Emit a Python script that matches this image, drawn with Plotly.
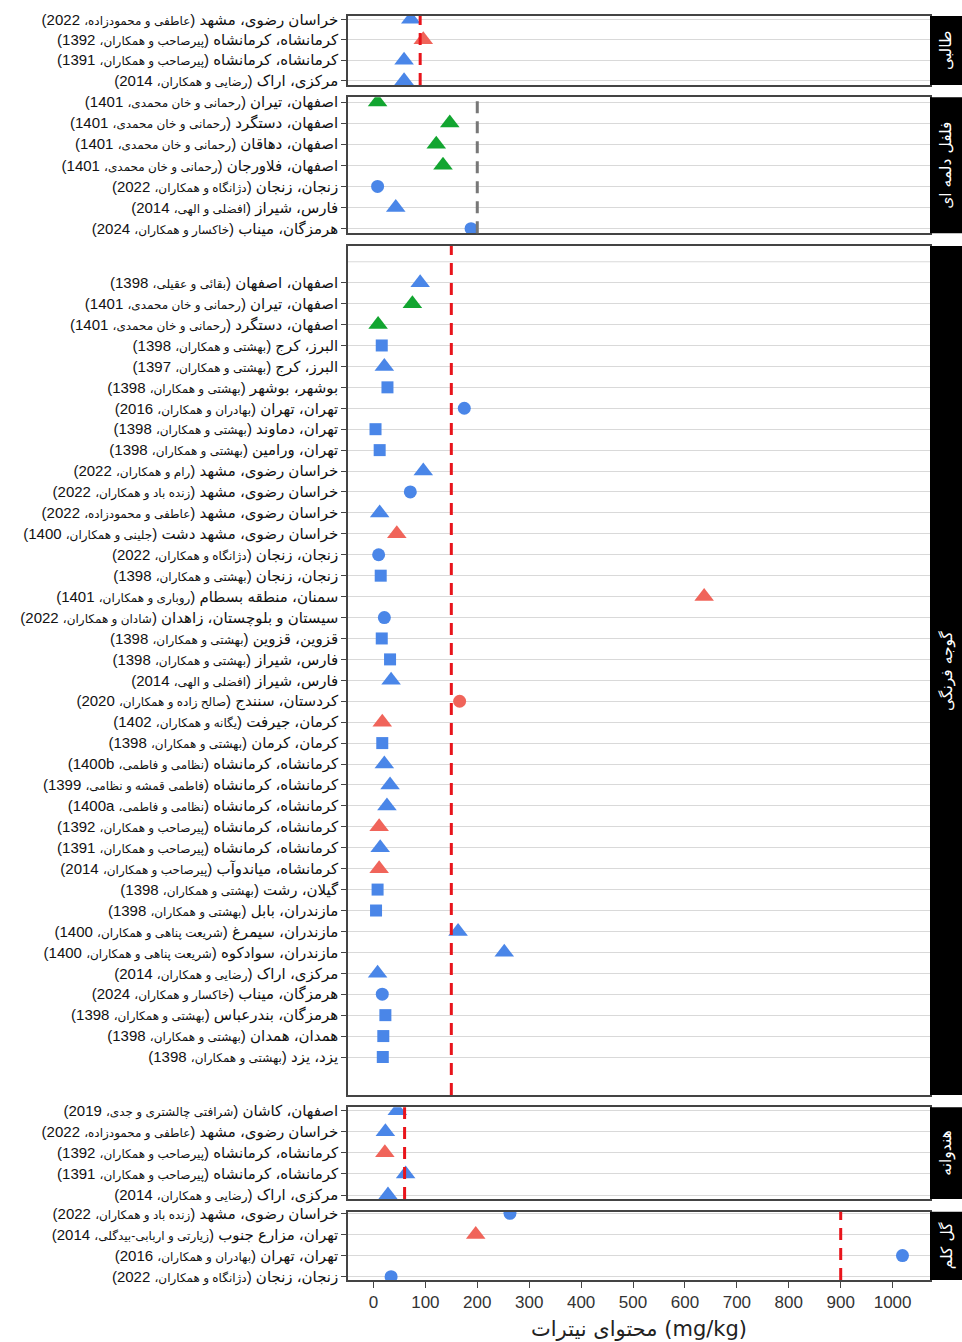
import re
import plotly.graph_objects as go

# ---------------- DATA ----------------
panel_names = ["طالبی", "فلفل دلمه ای", "گوجه فرنگی", "هندوانه", "گل کلم"]
thresholds = [90, 200, 150, 60, 900]
threshold_colors = ["#e8141b", "#777777", "#e8141b", "#e8141b", "#e8141b"]

melon_labels = [
    "خراسان رضوی، مشهد (عاطفی و محمودزاده، 2022)",
    "کرمانشاه، کرمانشاه (پیرصاحب و همکاران، 1392)",
    "کرمانشاه، کرمانشاه (پیرصاحب و همکاران، 1391)",
    "مرکزی، اراک (رضایی و همکاران، 2014)",
]
melon_values = [72, 96, 59, 59]
melon_shapes = ["t", "t", "t", "t"]
melon_colors = ["b", "r", "b", "b"]

pepper_labels = [
    "اصفهان، تیران (رحمانی و خان محمدی، 1401)",
    "اصفهان، دستگرد (رحمانی و خان محمدی، 1401)",
    "اصفهان، دهاقان (رحمانی و خان محمدی، 1401)",
    "اصفهان، فلاورجان (رحمانی و خان محمدی، 1401)",
    "زنجان، زنجان (دژانگاه و همکاران، 2022)",
    "فارس، شیراز (افضلی و الهی، 2014)",
    "هرمزگان، میناب (خاکسار و همکاران، 2024)",
]
pepper_values = [8, 147, 121, 134, 8, 43, 188]
pepper_shapes = ["t", "t", "t", "t", "c", "t", "c"]
pepper_colors = ["g", "g", "g", "g", "b", "b", "b"]

tomato_labels = [
    "اصفهان، اصفهان (بقائی و عقیلی، 1398)",
    "اصفهان، تیران (رحمانی و خان محمدی، 1401)",
    "اصفهان، دستگرد (رحمانی و خان محمدی، 1401)",
    "البرز، کرج (بهشتی و همکاران، 1398)",
    "البرز، کرج (بهشتی و همکاران، 1397)",
    "بوشهر، بوشهر (بهشتی و همکاران، 1398)",
    "تهران، تهران (بهادران و همکاران، 2016)",
    "تهران، دماوند (بهشتی و همکاران، 1398)",
    "تهران، ورامین (بهشتی و همکاران، 1398)",
    "خراسان رضوی، مشهد (رام و همکاران، 2022)",
    "خراسان رضوی، مشهد (زنده باد و همکاران، 2022)",
    "خراسان رضوی، مشهد (عاطفی و محمودزاده، 2022)",
    "خراسان رضوی، مشهد دشت (جلینی و همکاران، 1400)",
    "زنجان، زنجان (دژانگاه و همکاران، 2022)",
    "زنجان، زنجان (بهشتی و همکاران، 1398)",
    "سمنان، منطقه بسطام (روباری و همکاران، 1401)",
    "سیستان و بلوچستان، زاهدان (شادان و همکاران، 2022)",
    "قزوین، قزوین (بهشتی و همکاران، 1398)",
    "فارس، شیراز (بهشتی و همکاران، 1398)",
    "فارس، شیراز (افضلی و الهی، 2014)",
    "کردستان، سنندج (صالح زاده و همکاران، 2020)",
    "کرمان، جیرفت (یگانه و همکاران، 1402)",
    "کرمان، کرمان (بهشتی و همکاران، 1398)",
    "کرمانشاه، کرمانشاه (نظامی و فاطمی، 1400b)",
    "کرمانشاه، کرمانشاه (فاطمی قمشه و نظامی، 1399)",
    "کرمانشاه، کرمانشاه (نظامی و فاطمی، 1400a)",
    "کرمانشاه، کرمانشاه (پیرصاحب و همکاران، 1392)",
    "کرمانشاه، کرمانشاه (پیرصاحب و همکاران، 1391)",
    "کرمانشاه، میاندوآب (پیرصاحب و همکاران، 2014)",
    "گیلان، رشت (بهشتی و همکاران، 1398)",
    "مازندران، بابل (بهشتی و همکاران، 1398)",
    "مازندران، سیمرغ (شریعت پناهی و همکاران، 1400)",
    "مازندران، سوادکوه (شریعت پناهی و همکاران، 1400)",
    "مرکزی، اراک (رضایی و همکاران، 2014)",
    "هرمزگان، میناب (خاکسار و همکاران، 2024)",
    "هرمزگان، بندرعباس (بهشتی و همکاران، 1398)",
    "همدان، همدان (بهشتی و همکاران، 1398)",
    "یزد، یزد (بهشتی و همکاران، 1398)",
]
tomato_values = [90, 75, 9, 16, 21, 27, 175, 4, 12, 96, 71, 12, 45, 10, 14,
                 637, 21, 16, 32, 34, 166, 17, 17, 21, 32, 26, 11, 13, 11,
                 8, 5, 163, 252, 8, 17, 23, 19, 18]
tomato_shapes = ["t", "t", "t", "s", "t", "s", "c", "s", "s", "t", "c", "t", "t", "c", "s",
                 "t", "c", "s", "s", "t", "c", "t", "s", "t", "t", "t", "t", "t", "t",
                 "s", "s", "t", "t", "t", "c", "s", "s", "s"]
tomato_colors = ["b", "g", "g", "b", "b", "b", "b", "b", "b", "b", "b", "b", "r", "b", "b",
                 "r", "b", "b", "b", "b", "r", "r", "b", "b", "b", "b", "r", "b", "r",
                 "b", "b", "b", "b", "b", "b", "b", "b", "b"]

watermelon_labels = [
    "اصفهان، کاشان (شرافتی چالشتری و جدی، 2019)",
    "خراسان رضوی، مشهد (عاطفی و محمودزاده، 2022)",
    "کرمانشاه، کرمانشاه (پیرصاحب و همکاران، 1392)",
    "کرمانشاه، کرمانشاه (پیرصاحب و همکاران، 1391)",
    "مرکزی، اراک (رضایی و همکاران، 2014)",
]
watermelon_values = [46, 23, 22, 62, 28]
watermelon_shapes = ["t", "t", "t", "t", "t"]
watermelon_colors = ["b", "b", "r", "b", "b"]

cauliflower_labels = [
    "خراسان رضوی، مشهد (زنده باد و همکاران، 2022)",
    "تهران، مزارع جنوب (زیارتی و اربابی-بیدگلی، 2014)",
    "تهران، تهران (بهادران و همکاران، 2016)",
    "زنجان، زنجان (دژانگاه و همکاران، 2022)",
]
cauliflower_values = [263, 197, 1019, 34]
cauliflower_shapes = ["c", "t", "c", "c"]
cauliflower_colors = ["b", "r", "b", "b"]

x_ticks = [0, 100, 200, 300, 400, 500, 600, 700, 800, 900, 1000]
x_title = "محتوای نیترات (mg/kg)"

# ---------------- STYLE / LAYOUT ----------------
W, H = 962, 1342
PL, PR = 348, 930            # plot area left/right (px)
MT, MB = 16, 62
plot_h = H - MT - MB

COLOR_MAP = {"b": "#4a86e8", "r": "#f0645a", "g": "#12a530"}
SYMBOL_MAP = {"t": "triangle-up", "c": "circle", "s": "square"}
SIZE_MAP = {"t": 17, "c": 13, "s": 12}
GRID = "#d9d9d9"

# panel geometry in pixels: top, first row, last row, bottom
panel_px = [
    (16.0, 19.3, 80.7, 85.0),
    (97.3, 102.0, 228.7, 233.3),
    (246.0, 282.7, 1057.0, 1095.0),
    (1107.3, 1110.7, 1195.0, 1199.0),
    (1211.7, 1213.3, 1276.7, 1280.0),
]

panels = [
    (melon_labels, melon_values, melon_shapes, melon_colors),
    (pepper_labels, pepper_values, pepper_shapes, pepper_colors),
    (tomato_labels, tomato_values, tomato_shapes, tomato_colors),
    (watermelon_labels, watermelon_values, watermelon_shapes, watermelon_colors),
    (cauliflower_labels, cauliflower_values, cauliflower_shapes, cauliflower_colors),
]

XMIN = -49
XMAX = 1072

RLE, PDF = "\u202B", "\u202C"


def fmt_label(s):
    m = re.match(r"^(.*?)\s\((.*)،\s*([0-9a-z]+)\)$", s)
    if not m:
        return RLE + s + PDF
    place, authors, year = m.groups()
    return (f'{RLE}{place} (<span style="font-size:12px">{authors}،</span> '
            f'{year}){PDF}')


def yfrac(py):
    return 1 - (py - MT) / plot_h


fig = go.Figure()
layout = dict(
    width=W, height=H,
    margin=dict(l=PL, r=W - PR, t=MT, b=MB, autoexpand=False),
    plot_bgcolor="white", paper_bgcolor="white",
    showlegend=False,
    font=dict(family="Liberation Sans, DejaVu Sans, sans-serif", color="#1a1a1a"),
)
shapes = []
annotations = []

n_panels = len(panels)
for i, (labels, values, shp, col) in enumerate(panels):
    idx = i + 1
    xa = "x" if idx == 1 else f"x{idx}"
    ya = "y" if idx == 1 else f"y{idx}"
    xkey = "xaxis" if idx == 1 else f"xaxis{idx}"
    ykey = "yaxis" if idx == 1 else f"yaxis{idx}"
    top, first, last, bottom = panel_px[i]
    n = len(labels)
    step = (last - first) / (n - 1)
    r_top = -(first - top) / step
    r_bot = (n - 1) + (bottom - last) / step
    ypos = list(range(n))

    fig.add_trace(go.Scatter(
        x=values, y=ypos, mode="markers", xaxis=xa, yaxis=ya,
        marker=dict(
            symbol=[SYMBOL_MAP[s] for s in shp],
            size=[SIZE_MAP[s] for s in shp],
            color=[COLOR_MAP[c] for c in col],
            opacity=1,
            line=dict(width=0),
        ),
        hoverinfo="x+y",
    ))

    is_bottom = (i == n_panels - 1)
    layout[xkey] = dict(
        domain=[0, 1], anchor=ya, range=[XMIN, XMAX],
        automargin=False,
        showgrid=False, zeroline=False,
        showline=True, linecolor="#444", linewidth=1.5, mirror=True,
        ticks="outside" if is_bottom else "", ticklen=6, tickcolor="#444",
        tickvals=x_ticks if is_bottom else [],
        showticklabels=is_bottom,
        tickfont=dict(size=17, color="#333", family="Liberation Sans, DejaVu Sans"),
    )
    if idx != n_panels:
        layout[xkey]["matches"] = f"x{n_panels}"
    if is_bottom:
        layout[xkey]["title"] = dict(
            text=x_title, standoff=10,
            font=dict(size=21, color="#222", family="DejaVu Sans, Liberation Sans"),
        )
    layout[ykey] = dict(
        domain=[yfrac(bottom), yfrac(top)], anchor=xa,
        range=[r_bot, r_top],
        automargin=False,
        tickvals=ypos, ticktext=[fmt_label(s) for s in labels],
        ticks="outside", ticklen=5, tickcolor="#444",
        showgrid=True, gridcolor=GRID, gridwidth=1,
        zeroline=False,
        showline=True, linecolor="#444", linewidth=1.5, mirror=True,
        tickfont=dict(size=15, color="#111", family="Liberation Sans, DejaVu Sans"),
    )

    # extra empty grid row above the tomato rows
    if i == 2:
        shapes.append(dict(
            type="line", xref=f"{xa} domain", yref=ya, x0=0, x1=1,
            y0=-1, y1=-1, line=dict(color=GRID, width=1), layer="below",
        ))

    # threshold line
    shapes.append(dict(
        type="line", xref=xa, yref=f"{ya} domain",
        x0=thresholds[i], x1=thresholds[i], y0=0, y1=1,
        line=dict(color=threshold_colors[i], width=3, dash="12px,8px"),
        layer="above",
    ))

    # facet strip
    shapes.append(dict(
        type="rect", xref="paper", yref=f"{ya} domain",
        x0=1.0, x1=(W - PL) / (PR - PL) + 0.01, y0=0, y1=1,
        fillcolor="black", line=dict(width=0), layer="above",
    ))
    annotations.append(dict(
        text=panel_names[i], xref="paper", yref=f"{ya} domain",
        x=(946.5 - PL) / (PR - PL), y=0.5, showarrow=False,
        textangle=-90, xanchor="center", yanchor="middle",
        font=dict(color="white", size=15.5, family="DejaVu Sans"),
    ))

layout["shapes"] = shapes
layout["annotations"] = annotations
fig.update_layout(**layout)

fig.write_html(
    "out.html",
    config={"displayModeBar": False},
    post_script="document.body.style.margin='0';document.body.style.padding='0';",
)
